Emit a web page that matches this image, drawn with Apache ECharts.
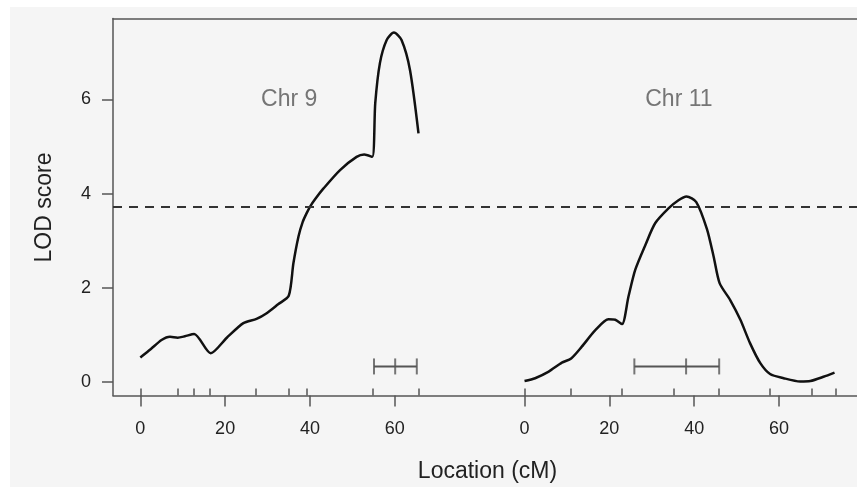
<!DOCTYPE html>
<html lang="en">
<head>
    <meta charset="UTF-8">
    <title>LOD score</title>
    <style>
        body{
            margin: 0;
            background: #fff;
        }
        #chart{
            position: absolute;
            left: 10px;
            top: 7px;
            width: 847px;
            height: 480px;
            background: #f5f5f5;
        }
    </style>
</head>
<body>
    <div id="chart"></div>

    <script src="https://cdn.jsdelivr.net/npm/echarts@6/dist/echarts.min.js"></script>
    <script>
        // LOD profile, Chr 9 (cM, LOD)
        let chr9Pos = [0, 2.5, 5.0, 7.0, 8.8, 10.5, 12.7, 16.6, 20.4, 24.3, 27.4, 29.8, 32.5, 35.0, 36.1, 37.3, 38.3, 39.2, 40.0, 41.2, 43.2, 47.1, 51.0, 52.8, 54.7, 55.4, 56.5, 58.1, 59.8, 61.6, 63.6, 65.6]
        let chr9Lod = [0.52, 0.70, 0.89, 0.96, 0.94, 0.97, 1.02, 0.61, 0.94, 1.25, 1.34, 1.46, 1.65, 1.83, 2.52, 3.09, 3.40, 3.58, 3.72, 3.88, 4.11, 4.50, 4.78, 4.83, 4.78, 5.92, 6.77, 7.26, 7.42, 7.26, 6.62, 5.28]

        // LOD profile, Chr 11
        let chr11Pos = [0, 2.5, 5.7, 8.8, 11.0, 13.5, 16.7, 19.8, 21.4, 23.0, 24.5, 26.1, 28.5, 30.8, 34.0, 36.3, 38.2, 40.5, 43.0, 44.6, 46.0, 48.5, 50.9, 53.2, 55.6, 57.9, 61.1, 65.0, 67.4, 70.5, 73.1]
        let chr11Lod = [0.02, 0.08, 0.22, 0.41, 0.50, 0.75, 1.10, 1.33, 1.32, 1.23, 1.81, 2.38, 2.91, 3.37, 3.69, 3.86, 3.94, 3.82, 3.25, 2.66, 2.10, 1.74, 1.32, 0.82, 0.40, 0.17, 0.08, 0.01, 0.02, 0.11, 0.20]

        // marker positions (rug ticks)
        let chr9Markers = [0, 8.8, 12.7, 16.4, 27.3, 35.0, 39.2, 54.8, 65.6]
        let chr11Markers = [0, 10.9, 23.0, 35.1, 45.9, 57.8, 67.8, 73.3]

        // support intervals: [left, peak, right]
        let chr9Ci = [55.1, 60.1, 65.2]
        let chr11Ci = [25.9, 38.1, 45.9]
        let ciLevel = 0.33

        let threshold = 3.72
        let chrNames = ['Chr 9', 'Chr 11']
        let xTicks = [0, 20, 40, 60]
        let yTicks = [0, 2, 4, 6]

        // chromosomes laid end to end with a 25 cM gap
        let gap = 25
        let chr9Len = 65.6
        let off11 = chr9Len + gap

        let font = '"Liberation Sans", Arial, Helvetica, sans-serif'
        let axisCol = '#555'

        let pairs = (pos, lod, off) => pos.map((p, i) => [p + off, lod[i]])
        let majorTicks = xTicks.concat(xTicks.map(v => v + off11))
        let markerTicks = chr9Markers.concat(chr11Markers.map(v => v + off11))
        let ciLine = (ci, off) => [[ci[0] + off, ciLevel], [ci[2] + off, ciLevel]]
        let ciCaps = chr9Ci.map(v => [v, ciLevel]).concat(chr11Ci.map(v => [v + off11, ciLevel]))

        let chart = echarts.init(document.getElementById('chart'))

        let xMin = -6.44, xMax = 169.0
        let yMin = -0.287, yMax = 7.718

        let option = {
            animation: false,
            textStyle: { fontFamily: font },
            grid: { left: 103, top: 11.5, right: 0, bottom: 91.5 },
            xAxis: [
                {
                    type: 'value', min: xMin, max: xMax, position: 'bottom',
                    splitLine: { show: false },
                    axisLine: { show: true, onZero: false, lineStyle: { color: axisCol, width: 1.5 } },
                    axisTick: { show: true, customValues: majorTicks, length: 11, lineStyle: { color: axisCol, width: 1.5 } },
                    axisLabel: {
                        customValues: majorTicks, margin: 25, fontSize: 18, color: '#222', fontFamily: font,
                        formatter: v => String(v >= off11 - 1 ? Math.round(v - off11) : Math.round(v))
                    }
                },
                {
                    type: 'value', min: xMin, max: xMax, position: 'bottom',
                    splitLine: { show: false },
                    axisLine: { show: false, onZero: false },
                    axisTick: { show: true, inside: true, customValues: markerTicks, length: 7, lineStyle: { color: axisCol, width: 1.5 } },
                    axisLabel: { show: false }
                },
                {
                    type: 'value', min: xMin, max: xMax, position: 'top',
                    splitLine: { show: false },
                    axisLine: { show: true, onZero: false, lineStyle: { color: axisCol, width: 1.5 } },
                    axisTick: { show: false },
                    axisLabel: { show: false }
                }
            ],
            yAxis: {
                type: 'value', min: yMin, max: yMax,
                splitLine: { show: false },
                axisLine: { show: true, onZero: false, lineStyle: { color: axisCol, width: 1.5 } },
                axisTick: { show: true, customValues: yTicks, length: 11, lineStyle: { color: axisCol, width: 1.5 } },
                axisLabel: { customValues: yTicks, margin: 22, fontSize: 18, color: '#222', fontFamily: font }
            },
            graphic: [
                {
                    type: 'text', x: 34.5, y: 200.5, rotation: Math.PI / 2,
                    style: { text: 'LOD score', font: '23px ' + font, fill: '#222', align: 'center', verticalAlign: 'middle' }
                },
                {
                    type: 'text', x: 477.5, y: 465,
                    style: { text: 'Location (cM)', font: '23px ' + font, fill: '#222', align: 'center', verticalAlign: 'middle' }
                }
            ],
            series: [
                {
                    type: 'line', data: pairs(chr9Pos, chr9Lod, 0), showSymbol: false, silent: true,
                    smooth: 0.25,
                    lineStyle: { color: '#111', width: 2.5 },
                    markLine: {
                        silent: true, symbol: ['none', 'none'], label: { show: false },
                        lineStyle: { color: '#333', width: 2, type: [9, 7] },
                        data: [{ yAxis: threshold }]
                    }
                },
                {
                    type: 'line', data: pairs(chr11Pos, chr11Lod, off11), showSymbol: false, silent: true,
                    smooth: 0.25,
                    lineStyle: { color: '#111', width: 2.5 }
                },
                {
                    type: 'line', data: ciLine(chr9Ci, 0), showSymbol: false, silent: true,
                    lineStyle: { color: axisCol, width: 2 }
                },
                {
                    type: 'line', data: ciLine(chr11Ci, off11), showSymbol: false, silent: true,
                    lineStyle: { color: axisCol, width: 2 }
                },
                {
                    type: 'scatter', data: ciCaps, symbol: 'rect', symbolSize: [2, 16], silent: true,
                    itemStyle: { color: axisCol }
                },
                {
                    type: 'scatter', symbolSize: 0, silent: true,
                    data: [[35.1, 5.99, chrNames[0]], [off11 + 36.4, 5.99, chrNames[1]]],
                    label: {
                        show: true, position: 'inside', formatter: p => p.data[2],
                        fontSize: 23, color: '#555', fontFamily: font
                    }
                }
            ]
        }
        chart.setOption(option)
    </script>
</body>
</html>
